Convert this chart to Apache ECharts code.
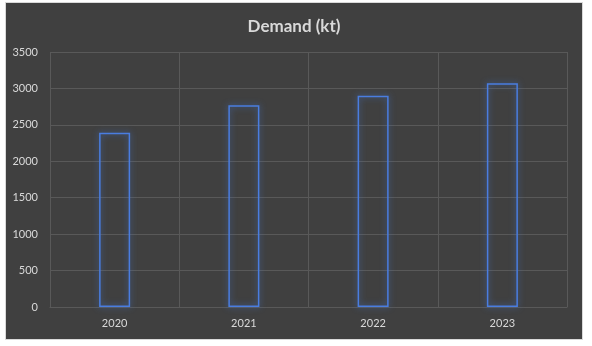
<!DOCTYPE html>
<html>
<head>
<meta charset="utf-8">
<script src="https://cdn.jsdelivr.net/npm/echarts@6/dist/echarts.min.js"></script>
<style>
html,body{margin:0;padding:0;background:#ffffff;}
#wrap{position:absolute;left:5px;top:2px;width:576px;height:336px;border:1px solid #d9d9d9;background:#404040;}
#chart{width:576px;height:336px;}
</style>
</head>
<body>
<div id="wrap"><div id="chart"></div></div>
<script>
const categories = ['2020', '2021', '2022', '2023'];
const demand = [2390, 2770, 2900, 3070];
const yTicks = { min: 0, max: 3500, interval: 500 };
const titleText = 'Demand (kt)';

const chart = echarts.init(document.getElementById('chart'), null, { renderer: 'canvas' });
chart.setOption({
  backgroundColor: '#404040',
  animation: false,
  title: {
    text: titleText,
    left: 'center',
    top: 10,
    textStyle: { color: '#d9d9d9', fontFamily: 'Lato', fontWeight: 'bold', fontSize: 17 }
  },
  grid: { left: 44, right: 15, top: 49, bottom: 32 },
  xAxis: {
    type: 'category',
    data: categories,
    boundaryGap: true,
    axisLine: { show: true, lineStyle: { color: '#595959' } },
    axisTick: { show: false },
    axisLabel: { color: '#d9d9d9', fontFamily: 'Lato', fontSize: 11, margin: 11 },
    splitLine: { show: true, lineStyle: { color: '#595959', width: 1 } }
  },
  yAxis: {
    type: 'value',
    min: yTicks.min,
    max: yTicks.max,
    interval: yTicks.interval,
    axisLine: { show: false },
    axisTick: { show: false },
    axisLabel: { color: '#d9d9d9', fontFamily: 'Lato', fontSize: 11, margin: 12, formatter: v => String(v) },
    splitLine: { show: true, lineStyle: { color: '#595959', width: 1 } }
  },
  series: [{
    type: 'bar',
    data: demand,
    barWidth: '24%',
    itemStyle: {
      color: 'rgba(0,0,0,0)',
      borderColor: '#4a7de0',
      borderWidth: 1.5,
      shadowColor: 'rgba(68,114,196,0.9)',
      shadowBlur: 6
    }
  }]
});
</script>
</body>
</html>
